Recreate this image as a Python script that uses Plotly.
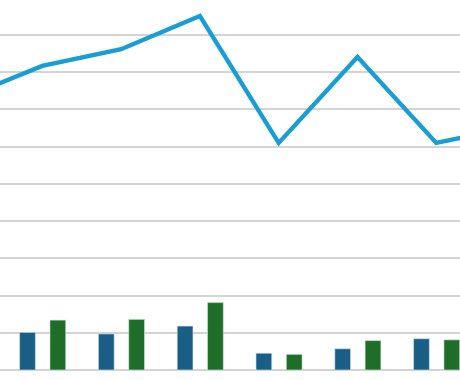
import plotly.graph_objects as go

# category positions (index); first and last lie just outside the visible window
positions = [-1, 0, 1, 2, 3, 4, 5, 6]
line_values = [7.31, 8.17, 8.62, 9.51, 6.10, 8.41, 6.10, 6.54]
blue_values = [None, 1.01, 0.97, 1.18, 0.45, 0.57, 0.84, None]
green_values = [None, 1.34, 1.36, 1.81, 0.42, 0.79, 0.81, None]

fig = go.Figure()
fig.add_trace(go.Bar(x=positions, y=blue_values, width=0.2, offset=-0.288,
                     marker=dict(color="#1a5e86", line=dict(color="#cfe6f0", width=0.6))))
fig.add_trace(go.Bar(x=positions, y=green_values, width=0.2, offset=0.097,
                     marker=dict(color="#1e6e2a", line=dict(color="#cfe8d2", width=0.6))))
fig.add_trace(go.Scatter(x=positions, y=line_values, mode="lines",
                         line=dict(color="#189ed5", width=4.3)))

fig.update_layout(
    width=460, height=380,
    margin=dict(l=0, r=0, t=0, b=0),
    paper_bgcolor="white", plot_bgcolor="white",
    showlegend=False, barmode="overlay",
    xaxis=dict(range=[-0.537, 5.301], showgrid=False, zeroline=False,
               showticklabels=False, ticks=""),
    yaxis=dict(range=[-0.269, 9.941], dtick=1, tick0=0, showgrid=True,
               gridcolor="#d4d4d4", gridwidth=1.5, zeroline=False,
               showticklabels=False, ticks=""),
)
fig.write_html("out.html")
